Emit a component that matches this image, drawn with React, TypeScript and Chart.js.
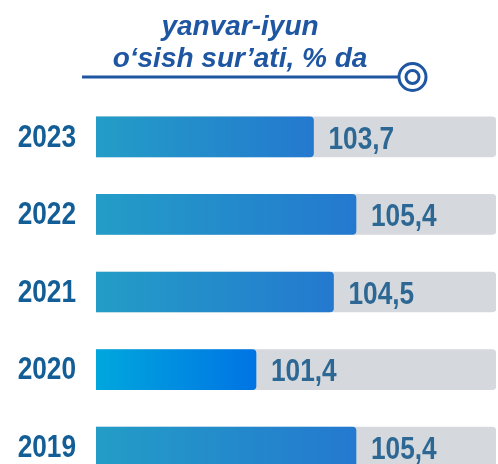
import React, { useEffect, useRef } from "react";
import { Chart, registerables } from "chart.js";

Chart.register(...registerables);

const years = ["2023", "2022", "2021", "2020", "2019"];
const growth = [103.7, 105.4, 104.5, 101.4, 105.4];
const titleLines = ["yanvar-iyun", "o‘sish sur’ati, % da"];
const axisMin = 95;
const axisMax = 111;

const gradStops: [string, string][] = [
  ["#239DC7", "#2479CF"],
  ["#239DC7", "#2479CF"],
  ["#239DC7", "#2479CF"],
  ["#00A7DD", "#0074E4"],
  ["#239DC7", "#2479CF"],
];

const FAMILY = '"Liberation Sans", Arial, sans-serif';

function narrowText(ctx: CanvasRenderingContext2D, text: string, x: number, y: number, align: "left" | "right") {
  const sx = 0.82;
  ctx.save();
  ctx.translate(x, y);
  ctx.scale(sx, 1);
  ctx.textAlign = align;
  ctx.fillText(text, 0, 0);
  ctx.restore();
}

export default function App() {
  const ref = useRef<HTMLCanvasElement | null>(null);

  useEffect(() => {
    if (!ref.current) return;

    const decor = {
      id: "decor",
      afterDraw(chart: any) {
        const ctx = chart.ctx;
        ctx.save();
        // title
        ctx.fillStyle = "#1F56A2";
        ctx.font = `italic bold 28px ${FAMILY}`;
        ctx.textAlign = "center";
        ctx.textBaseline = "alphabetic";
        ctx.fillText(titleLines[0], 240, 35);
        ctx.fillText(titleLines[1], 240, 67);
        // line + ring marker
        ctx.strokeStyle = "#1F56A2";
        ctx.lineWidth = 3;
        ctx.beginPath();
        ctx.moveTo(82, 77);
        ctx.lineTo(399, 77);
        ctx.stroke();
        ctx.fillStyle = "#ffffff";
        ctx.beginPath();
        ctx.arc(412.5, 77, 13.5, 0, Math.PI * 2);
        ctx.fill();
        ctx.stroke();
        ctx.beginPath();
        ctx.arc(412.5, 77, 6.5, 0, Math.PI * 2);
        ctx.stroke();
        // year labels (category axis) and value labels
        const meta = chart.getDatasetMeta(0);
        const yScale = chart.scales.y;
        ctx.font = `bold 32px ${FAMILY}`;
        ctx.textBaseline = "middle";
        years.forEach((yr, i) => {
          ctx.fillStyle = "#135E96";
          narrowText(ctx, yr, chart.chartArea.left - 20, yScale.getPixelForValue(i) + 1, "right");
        });
        meta.data.forEach((el: any, i: number) => {
          ctx.fillStyle = "#2D6894";
          narrowText(ctx, growth[i].toFixed(1).replace(".", ","), el.x + 15, el.y + 3, "left");
        });
        ctx.restore();
      },
    };

    const chart = new Chart(ref.current, {
      type: "bar",
      data: {
        labels: years,
        datasets: [
          {
            data: growth,
            order: 0,
            grouped: false,
            barThickness: 40,
            borderRadius: 4,
            borderSkipped: false,
            backgroundColor: (c: any) => {
              const ch = c.chart;
              const area = ch.chartArea;
              const stops = gradStops[c.dataIndex] || gradStops[0];
              if (!area || c.type !== "data") return stops[0];
              const end = ch.scales.x.getPixelForValue(growth[c.dataIndex]);
              const g = ch.ctx.createLinearGradient(area.left, 0, Math.max(end, area.left + 1), 0);
              g.addColorStop(0, stops[0]);
              g.addColorStop(1, stops[1]);
              return g;
            },
          },
          {
            data: years.map(() => axisMax),
            order: 1,
            grouped: false,
            barThickness: 40,
            borderRadius: 4,
            borderSkipped: false,
            backgroundColor: "#D5D9DD",
          },
        ],
      },
      options: {
        indexAxis: "y",
        animation: false,
        responsive: false,
        maintainAspectRatio: false,
        layout: { padding: { top: 98, right: 2, bottom: 0, left: 96 } },
        plugins: { legend: { display: false }, tooltip: { enabled: false }, title: { display: false } },
        scales: {
          x: { display: false, min: axisMin, max: axisMax },
          y: { display: false },
        },
      },
      plugins: [decor],
    } as any);
    return () => chart.destroy();
  }, []);

  return (
    <div style={{ position: "fixed", left: 0, top: 0, width: 498, height: 464, overflow: "hidden", background: "#fff" }}>
      <canvas ref={ref} width={498} height={486} style={{ display: "block", width: 498, height: 486 }} />
    </div>
  );
}
